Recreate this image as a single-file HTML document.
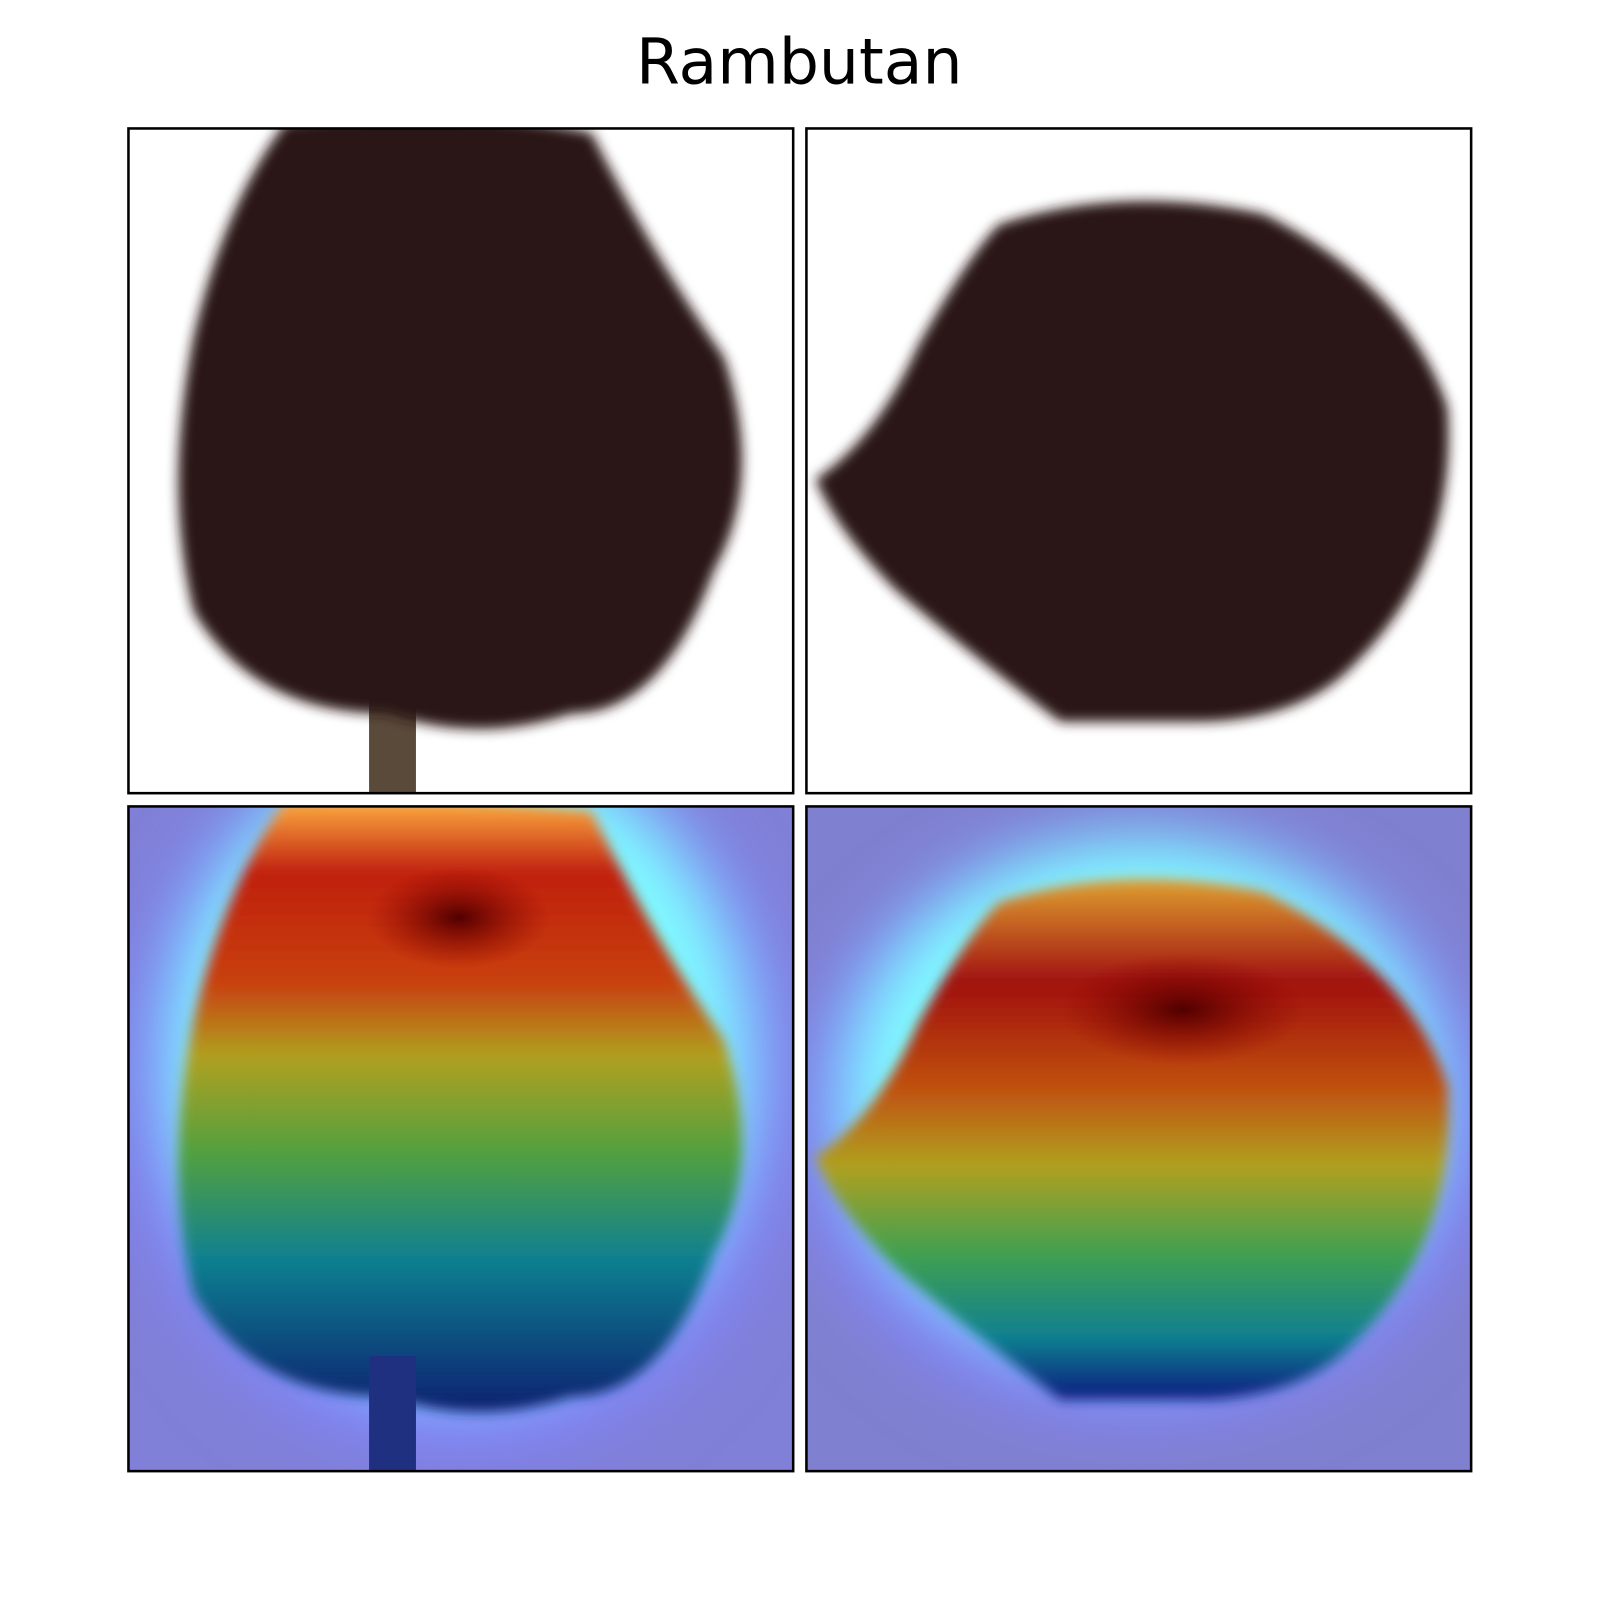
<!DOCTYPE html>
<html><head><meta charset="utf-8"><style>
html,body{margin:0;padding:0;background:#fff;width:1600px;height:1600px;overflow:hidden}
svg{display:block}
</style></head><body>
<svg width="1600" height="1600" viewBox="0 0 1600 1600">
<defs>
  <clipPath id="c1"><rect x="126" y="126" width="652" height="652"/></clipPath>
  <clipPath id="c2"><rect x="791" y="126" width="652" height="652"/></clipPath>
  <clipPath id="c3"><rect x="126" y="791" width="652" height="652"/></clipPath>
  <clipPath id="c4"><rect x="791" y="791" width="652" height="652"/></clipPath>
  <filter id="fuzz"><feGaussianBlur stdDeviation="6"/></filter>
  <filter id="soft"><feGaussianBlur stdDeviation="30"/></filter>
  <linearGradient id="heatL" x1="0" y1="0" x2="0" y2="1">
    <stop offset="0" stop-color="#ffb040"/>
    <stop offset="0.12" stop-color="#c02010"/>
    <stop offset="0.3" stop-color="#c84010"/>
    <stop offset="0.42" stop-color="#b0a020"/>
    <stop offset="0.58" stop-color="#50a040"/>
    <stop offset="0.75" stop-color="#108090"/>
    <stop offset="1" stop-color="#102070"/>
  </linearGradient>
  <linearGradient id="heatR" x1="0" y1="0" x2="0" y2="1">
    <stop offset="0" stop-color="#e0a030"/>
    <stop offset="0.2" stop-color="#a01010"/>
    <stop offset="0.4" stop-color="#c05010"/>
    <stop offset="0.55" stop-color="#b0a020"/>
    <stop offset="0.72" stop-color="#40a050"/>
    <stop offset="0.88" stop-color="#108090"/>
    <stop offset="1" stop-color="#101a80"/>
  </linearGradient>
  <radialGradient id="haloL" cx="0.5" cy="0.45" r="0.55">
    <stop offset="0.7" stop-color="#80ffff"/>
    <stop offset="0.85" stop-color="#8080ff"/>
    <stop offset="1" stop-color="#8080d8"/>
  </radialGradient>
  <radialGradient id="hotspot"><stop offset="0" stop-color="#500000"/><stop offset="1" stop-color="#900000" stop-opacity="0"/></radialGradient>
</defs>
<g transform="scale(1.0195)">
<text x="784" y="82" text-anchor="middle" font-family="DejaVu Sans, Liberation Sans, sans-serif" font-size="62" fill="#000">Rambutan</text>

<g clip-path="url(#c1)">
  <rect x="126" y="126" width="652" height="652" fill="#fff"/>
  <rect x="362" y="660" width="46" height="120" fill="#5a4a3a"/>
  <path d="M280 120 Q440 100 580 130 Q640 250 710 350 Q750 470 700 560 Q650 700 560 700 Q470 730 380 700 Q250 700 190 600 Q160 480 190 330 Q220 200 280 120Z" fill="#2a1517" filter="url(#fuzz)"/>
</g>
<rect x="126" y="126" width="652" height="652" fill="none" stroke="#000" stroke-width="2.5"/>

<g clip-path="url(#c2)">
  <rect x="791" y="126" width="652" height="652" fill="#fff"/>
  <path d="M980 220 Q1100 180 1240 210 Q1380 280 1420 400 Q1430 550 1330 650 Q1280 705 1180 708 L1040 708 Q950 640 880 580 Q820 520 800 470 Q860 430 900 340 Q950 250 980 220Z" fill="#2a1517" filter="url(#fuzz)"/>
</g>
<rect x="791" y="126" width="652" height="652" fill="none" stroke="#000" stroke-width="2.5"/>

<g clip-path="url(#c3)">
  <rect x="126" y="791" width="652" height="652" fill="#8080d8"/>
  <ellipse cx="450" cy="1080" rx="330" ry="370" fill="url(#haloL)" filter="url(#soft)"/>
  <path d="M280 785 Q440 780 580 795 Q640 920 710 1020 Q750 1140 700 1230 Q650 1370 560 1370 Q470 1400 380 1370 Q250 1370 190 1270 Q160 1150 190 1000 Q220 870 280 785Z" fill="url(#heatL)" filter="url(#fuzz)"/>
  <rect x="362" y="1330" width="46" height="115" fill="#203080"/>
  <ellipse cx="450" cy="900" rx="90" ry="50" fill="url(#hotspot)"/>
</g>
<rect x="126" y="791" width="652" height="652" fill="none" stroke="#000" stroke-width="2.5"/>

<g clip-path="url(#c4)">
  <rect x="791" y="791" width="652" height="652" fill="#8080d0"/>
  <ellipse cx="1120" cy="1110" rx="340" ry="300" fill="url(#haloL)" filter="url(#soft)"/>
  <path d="M980 885 Q1100 845 1240 875 Q1380 945 1420 1065 Q1430 1215 1330 1315 Q1280 1370 1180 1373 L1040 1373 Q950 1305 880 1245 Q820 1185 800 1135 Q860 1095 900 1005 Q950 915 980 885Z" fill="url(#heatR)" filter="url(#fuzz)"/>
  <ellipse cx="1160" cy="990" rx="120" ry="55" fill="url(#hotspot)"/>
</g>
<rect x="791" y="791" width="652" height="652" fill="none" stroke="#000" stroke-width="2.5"/>
</g>
</svg>
</body></html>
